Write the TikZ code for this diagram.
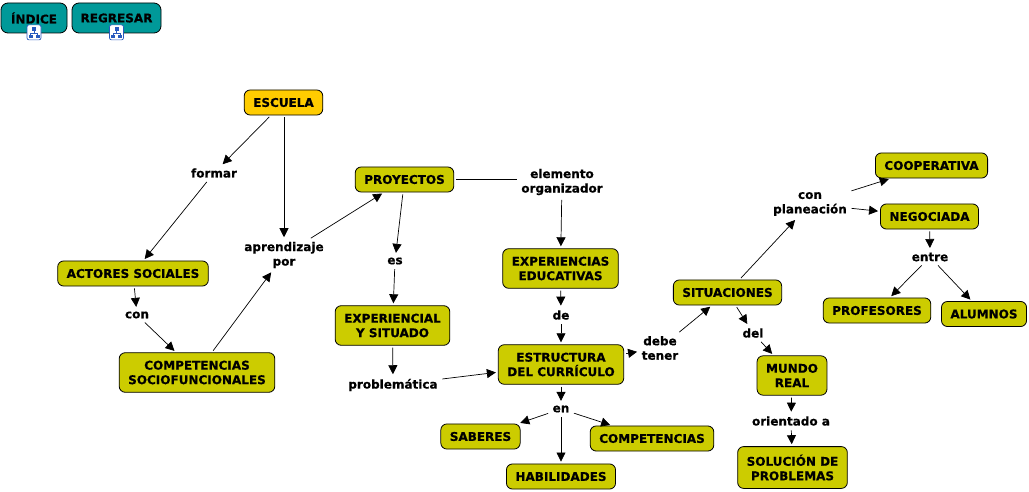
\documentclass[tikz,border=0pt]{standalone}
\usepackage{fontspec}
\setmainfont{DejaVu Sans}[BoldFeatures={FakeBold=0.6}]
\usetikzlibrary{arrows.meta}
\definecolor{cmolive}{RGB}{204,204,0}
\definecolor{cmgold}{RGB}{255,204,0}
\definecolor{cmteal}{RGB}{0,153,153}
\definecolor{cmblue}{RGB}{40,90,190}
\begin{document}
\begin{tikzpicture}[x=1pt,y=-1pt,
  font=\fontsize{12}{14.5}\selectfont\bfseries,
  concept/.style={draw=black, line width=0.8pt, rounded corners=6pt, fill=cmolive,
    inner xsep=9pt, inner ysep=8pt, minimum height=25pt, align=center},
  button/.style={draw=black, line width=0.8pt, rounded corners=7pt, fill=cmteal,
    minimum height=30pt, inner sep=0pt},
  icon/.style={draw=cmblue, fill=white, rounded corners=2pt, minimum width=14pt,
    minimum height=15pt, inner sep=0pt, line width=0.7pt},
  lbl/.style={inner sep=2.5pt, align=center},
  arr/.style={-{Triangle[length=9pt,width=9pt]}, line width=0.7pt,
    shorten >=2pt, shorten <=2pt},
  ln/.style={line width=0.7pt, shorten >=2pt, shorten <=2pt}]
\useasboundingbox (0,0) rectangle (1029,492);

% buttons
\node[button, minimum width=66pt] (indice) at (34,18) {ÍNDICE};
\node[button, minimum width=89pt] (regresar) at (116.5,18) {REGRESAR};
\foreach \b/\n in {indice/ic1, regresar/ic2}{
  \node[icon] (\n) at ([yshift=1pt]\b.south) {};
  \fill[cmblue] ([shift={(-2,-5)}]\n.center) rectangle ([shift={(2,-1.5)}]\n.center);
  \draw[cmblue, line width=0.6pt] ([shift={(0,-1.5)}]\n.center) -- ([shift={(0,1)}]\n.center)
     ([shift={(-3.5,1)}]\n.center) -- ([shift={(3.5,1)}]\n.center)
     ([shift={(-3.5,1)}]\n.center) -- ([shift={(-3.5,2.5)}]\n.center)
     ([shift={(3.5,1)}]\n.center) -- ([shift={(3.5,2.5)}]\n.center);
  \fill[cmblue] ([shift={(-5.5,2.5)}]\n.center) rectangle ([shift={(-1.5,5.5)}]\n.center);
  \fill[cmblue] ([shift={(1.5,2.5)}]\n.center) rectangle ([shift={(5.5,5.5)}]\n.center);
}

% concepts
\node[concept, fill=cmgold] (escuela) at (283.5,102.5) {ESCUELA};
\node[concept] (actores) at (133,273.5) {ACTORES SOCIALES};
\node[concept] (compsoc) at (197,372.5) {COMPETENCIAS\\SOCIOFUNCIONALES};
\node[concept] (proyectos) at (404.5,179.5) {PROYECTOS};
\node[concept] (experiencial) at (392.5,325.5) {EXPERIENCIAL\\Y SITUADO};
\node[concept] (expedu) at (560.5,268.5) {EXPERIENCIAS\\EDUCATIVAS};
\node[concept] (estructura) at (561,364.5) {ESTRUCTURA\\DEL CURRÍCULO};
\node[concept] (saberes) at (480.5,436.5) {SABERES};
\node[concept] (competencias) at (652,438.5) {COMPETENCIAS};
\node[concept] (habilidades) at (561,476.5) {HABILIDADES};
\node[concept] (situaciones) at (727.5,292.5) {SITUACIONES};
\node[concept] (mundo) at (792,375.5) {MUNDO\\REAL};
\node[concept] (solucion) at (792.5,467.5) {SOLUCIÓN DE\\PROBLEMAS};
\node[concept] (cooperativa) at (931.5,165.5) {COOPERATIVA};
\node[concept] (negociada) at (929.5,216.5) {NEGOCIADA};
\node[concept] (profesores) at (877,310.5) {PROFESORES};
\node[concept] (alumnos) at (984,314) {ALUMNOS};

% linking phrases
\node[lbl] (formar) at (214,173) {formar};
\node[lbl] (con1) at (137,315) {con};
\node[lbl] (aprend) at (284,255) {aprendizaje\\por};
\node[lbl] (elemento) at (562,182) {elemento\\organizador};
\node[lbl] (es) at (395,261) {es};
\node[lbl] (problem) at (393,385) {problemática};
\node[lbl] (de) at (561,315) {de};
\node[lbl] (en) at (561,409) {en};
\node[lbl] (debe) at (660,348) {debe\\tener};
\node[lbl] (del) at (753,333) {del};
\node[lbl] (orientado) at (791,421) {orientado a};
\node[lbl] (conplan) at (810,204) {con\\planeación};
\node[lbl] (entre) at (930,257) {entre};

% connectors
\draw[arr] (escuela) -- (formar);
\draw[arr] (formar) -- (actores);
\draw[arr] (escuela.south -| aprend.north) -- (aprend);
\draw[arr] (aprend) -- (proyectos);
\draw[arr] (actores) -- (con1);
\draw[arr] (con1) -- (compsoc);
\draw[arr] (compsoc) -- (aprend);
\draw[arr] (proyectos) -- (es);
\draw[arr] (es) -- (experiencial);
\draw[arr] (experiencial) -- (problem);
\draw[arr] (problem) -- (estructura);
\draw[ln] (proyectos.east) -- (elemento.west |- proyectos.east);
\draw[arr] (elemento) -- (expedu);
\draw[arr] (expedu) -- (de);
\draw[arr] (de) -- (estructura);
\draw[arr] (estructura) -- (debe);
\draw[arr] (debe) -- (situaciones);
\draw[arr] (estructura) -- (en);
\draw[arr] (en) -- (saberes);
\draw[arr] (en) -- (competencias);
\draw[arr] (en) -- (habilidades);
\draw[arr] (situaciones) -- (conplan);
\draw[arr] (conplan) -- (cooperativa);
\draw[arr] (conplan) -- (negociada);
\draw[arr] (negociada) -- (entre);
\draw[arr] (entre) -- (profesores);
\draw[arr] (entre) -- (alumnos);
\draw[arr] (situaciones) -- (del);
\draw[arr] (del) -- (mundo);
\draw[arr] (mundo) -- (orientado);
\draw[arr] (orientado) -- (solucion);
\end{tikzpicture}
\end{document}
